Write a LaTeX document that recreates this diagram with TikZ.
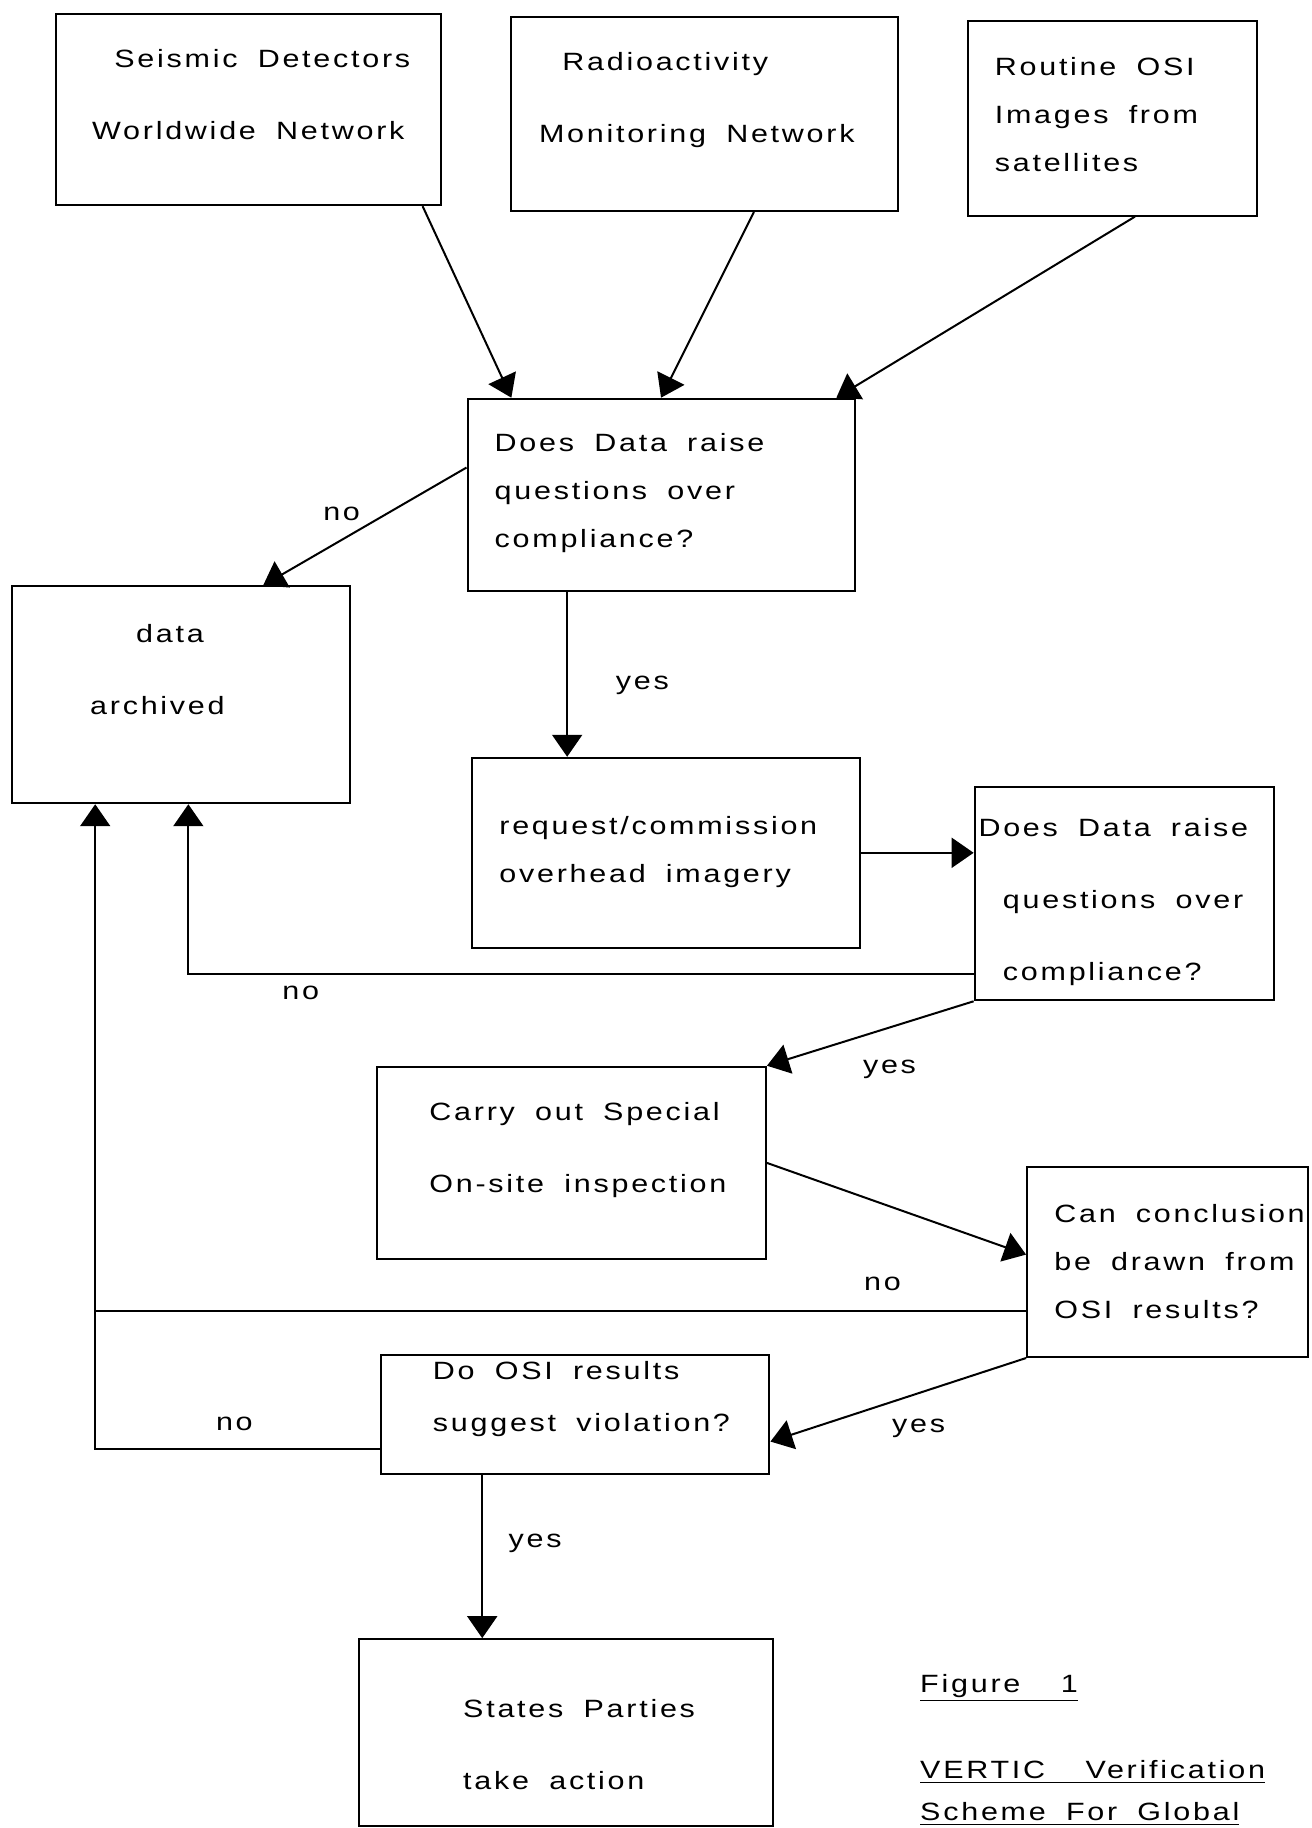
\documentclass[tikz,border=0pt]{standalone}
\usepackage{fontspec}
\setmainfont{Liberation Sans}[FakeStretch=1.22,LetterSpace=11,WordSpace=1.8]
\usetikzlibrary{fit,arrows.meta}

\begin{document}
\begin{tikzpicture}[x=0.5831pt,y=-0.5831pt,
  box/.style={draw,line width=1pt,inner sep=0pt},
  txt/.style={inner sep=0pt,align=left,anchor=west,font=\fontsize{12.5}{23.9}\selectfont},
  txtwide/.style={txt,font=\fontsize{12.5}{36}\selectfont},
  lbl/.style={inner sep=0pt,font=\fontsize{12.5}{15}\selectfont},
  wire/.style={line width=1pt},
  arr/.style={wire,-{Triangle[length=11pt,width=15pt]}}]
\useasboundingbox (0,0) rectangle (1125,1568);

\node[box,fit={(48,12) (378,176)}] (seis) {};
\node[box,fit={(438,15) (770,181)}] (radio) {};
\node[box,fit={(830,18) (1078,185)}] (sat) {};
\node[box,fit={(401,342) (733,507)}] (qa) {};
\node[box,fit={(10,503) (300,689)}] (arch) {};
\node[box,fit={(405,650) (738,813)}] (req) {};
\node[box,fit={(836,675) (1093,858)}] (qb) {};
\node[box,fit={(323,915) (657,1080)}] (insp) {};
\node[box,fit={(881,1001) (1122,1164)}] (concl) {};
\node[box,fit={(327,1162) (660,1264)}] (viol) {};
\node[box,fit={(308,1406) (663,1566)}] (act) {};

\node[txtwide,align=center,anchor=center] (seisT) at(213,81.5) {\hspace*{14pt}Seismic Detectors\\Worldwide Network};
\node[txtwide] (radioT) at(462,85.5) {\hspace*{11.7pt}Radioactivity\\Monitoring Network};
\node[txt] (satT) at(853,98.5) {Routine OSI\\Images from\\satellites};
\node[txt] (qaT) at(424,423) {Does Data raise\\questions over\\compliance?};
\node[txtwide] (archT) at(77,574) {\hspace*{23pt}data\\archived};
\node[txt] (reqT) at(428,731) {request/commission\\overhead imagery};
\node[txtwide] (qbT) at(839,773.5) {Does Data raise\\\hspace*{12.2pt}questions over\\\hspace*{12.2pt}compliance?};
\node[txtwide] (inspT) at(368,986.5) {Carry out Special\\On-site inspection};
\node[txt] (conclT) at(904,1082) {Can conclusion\\be drawn from\\OSI results?};
\node[txt,font=\fontsize{12.5}{25.7}\selectfont] (violT) at(371,1200) {Do OSI results\\suggest violation?};
\node[txtwide] (actT) at(397,1496.5) {States Parties\\take action};

\node[txt] (figT) at(789,1448) {\underline{Figure\ \ 1}};
\node[txt,font=\fontsize{12.5}{21}\selectfont] (captT) at(789,1538) {\underline{VERTIC\ \ Verification}\\\underline{Scheme For Global}};

\draw[arr] (seis.-29.5) -- (qa.147.4);
\draw[arr] (radio.-63.7) -- (qa.north);
\draw[arr] (sat.-77.8) -- (qa.29.5);
\draw[arr] (qa.172.96) -- (arch.53);
\draw[arr] (qa.-134.5) -- (qa.-134.5 |- req.north);
\draw[arr] (req.east) -- (req.east -| qb.west);
\draw[arr] (qb.-152.6) -| (arch.-86.9);
\draw[arr] (qb.south west) -- (insp.north east);
\draw[arr] (insp.east) -- (concl.177.9);
\draw[wire] (concl.-161.85) -- (concl.-161.85 -| arch.-128.1);
\draw[arr] (concl.south west) -- (viol.-8.2);
\draw[arr] (viol.-170.1) -| (arch.-128.1);
\draw[arr] (viol.-147.65) -- (viol.-147.65 |- act.north);

\node[lbl] (noA) at(293,441) {no};
\node[lbl] (yesA) at(551,588) {yes};
\node[lbl] (noB) at(258,852) {no};
\node[lbl] (yesB) at(763,917) {yes};
\node[lbl] (noC) at(757,1101) {no};
\node[lbl] (yesC) at(788,1225) {yes};
\node[lbl] (noD) at(201,1221) {no};
\node[lbl] (yesD) at(459,1324) {yes};
\end{tikzpicture}
\end{document}
